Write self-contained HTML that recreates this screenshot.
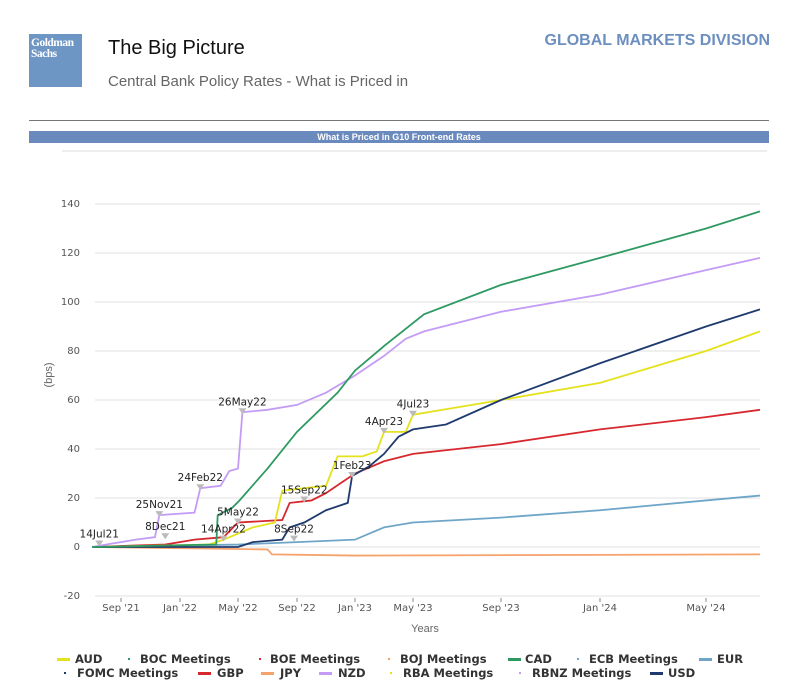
<!DOCTYPE html>
<html><head><meta charset="utf-8">
<style>
body{margin:0;width:800px;height:693px;background:#fff;font-family:"Liberation Sans",sans-serif;overflow:hidden;position:relative}
.abs{position:absolute}
.lg{position:absolute;font-size:11.5px;font-weight:bold;color:#333;font-family:"DejaVu Sans","Liberation Sans",sans-serif;white-space:nowrap;line-height:14px}
.mk{position:absolute;width:13px;height:3px}
.dt{position:absolute;width:2px;height:2px}
</style></head>
<body>
<div class="abs" style="left:29px;top:34px;width:53px;height:53px;background:#6d96c4;color:#fff;font-family:'Liberation Serif',serif;font-size:11.5px;line-height:11px;padding:4px 2px;box-sizing:border-box;font-weight:bold;letter-spacing:-0.5px">Goldman<br>Sachs</div>
<div class="abs" style="left:108px;top:37px;font-size:20px;color:#111">The Big Picture</div>
<div class="abs" style="left:108px;top:73px;font-size:15px;color:#666">Central Bank Policy Rates - What is Priced in</div>
<div class="abs" style="right:30px;top:32px;font-size:16px;font-weight:bold;color:#6d8fc0">GLOBAL MARKETS DIVISION</div>
<div class="abs" style="left:29px;top:120px;width:740px;height:1px;background:#777"></div>
<div class="abs" style="left:29px;top:131px;width:740px;height:12px;background:#6a89bd;color:#fff;font-size:9px;font-weight:bold;text-align:center;line-height:12px">What is Priced in G10 Front-end Rates</div>
<svg class="abs" style="left:0;top:0" width="800" height="693" id="chart"></svg>
<script>
const yTicks=[140,120,100,80,60,40,20,0,-20];
const xTickLabels=["Sep '21","Jan '22","May '22","Sep '22","Jan '23","May '23","Sep '23","Jan '24","May '24"];
const xTickMonths=[2,6,10,14,18,22,26,30,34];
const xTickPx=[121,180,238,297,355,413,501,600,706];
const CAD=[[0,0],[8.5,1],[8.6,13],[9.6,16],[10.1,19],[12,32],[14,47],[16.8,63],[18,72],[20,82],[22.5,95],[26,107],[30,118],[34,130],[36,137]];
const NZD=[[0,0],[1,1],[3,3],[4.3,4],[4.6,13],[7,14],[7.4,24],[8.8,25],[9.4,31],[10,32],[10.3,55],[12,56],[14,58],[16,63],[18,70],[20,78],[21.5,85],[22.5,88],[26,96],[30,103],[34,113],[36,118]];
const USD=[[0,0],[10,0],[11,2],[13,3],[13.5,8],[14.5,10],[16,15],[17.5,18],[17.8,29],[19,33],[20,38],[21,45],[22,48],[23.5,50],[26,60],[30,75],[34,90],[36,97]];
const AUD=[[0,0],[8,1],[9,3],[11,8],[12.5,10],[13,23],[14.5,24],[16,25],[16.8,37],[18.5,37],[19.5,39],[20,47],[21.5,47],[22,54],[24,57],[26,60],[30,67],[34,80],[36,88]];
const GBP=[[0,0],[5,1],[7,3],[9,4],[10,10],[13,11],[13.5,18],[15,19],[16,22],[17,26],[18,30],[20,35],[22,38],[26,42],[30,48],[34,53],[36,56]];
const EUR=[[0,0],[10,1],[14,2],[18,3],[20,8],[22,10],[26,12],[30,15],[34,19],[36,21]];
const JPY=[[0,0],[12,-1],[12.3,-3],[18,-3.5],[36,-3]];
const annotations=[["14Jul21",0.5,1],["25Nov21",4.6,13],["8Dec21",5,4],["24Feb22",7.4,24],["26May22",10.3,55],["5May22",10,10],["14Apr22",9,3],["15Sep22",14.5,19],["8Sep22",13.8,3],["1Feb23",17.8,29],["4Apr23",20,47],["4Jul23",22,54]];
const svg=document.getElementById('chart');
const NS='http://www.w3.org/2000/svg';
function xS(m){const ms=[0].concat(xTickMonths,[36]);const px=[92].concat(xTickPx,[760]);for(let i=0;i<ms.length-1;i++){if(m<=ms[i+1])return px[i]+(m-ms[i])/(ms[i+1]-ms[i])*(px[i+1]-px[i]);}return 760;}
function yS(v){return 547-v*2.45;}
function mk(t,a){const e=document.createElementNS(NS,t);for(const k in a)e.setAttribute(k,a[k]);svg.appendChild(e);return e;}
let g=mk('line',{x1:62,x2:767,y1:151,y2:151,stroke:'#ddd'});


yTicks.forEach(v=>{const l=mk('line',{x1:95,x2:760,y1:yS(v),y2:yS(v),stroke:'#e2e2e2'});


const t=mk('text',{x:80,y:yS(v)+3,'text-anchor':'end','font-size':10,fill:'#555','font-family':'DejaVu Sans'});t.textContent=v;

});
xTickMonths.forEach((m,i)=>{const t=mk('text',{x:xS(m),y:611,'text-anchor':'middle','font-size':10,fill:'#555','font-family':'DejaVu Sans'});t.textContent=xTickLabels[i];


const k=mk('line',{x1:xS(m),x2:xS(m),y1:598,y2:602,stroke:'#888'});

});
let t=mk('text',{x:425,y:632,'text-anchor':'middle','font-size':11,fill:'#666'});t.textContent='Years';


t=mk('text',{x:0,y:0,transform:'translate(52,375) rotate(-90)','text-anchor':'middle','font-size':11,fill:'#666'});t.textContent='(bps)';


const series=[["JPY",JPY,"#f5a26b"],["EUR",EUR,"#6fa6c8"],["GBP",GBP,"#d7282f"],["AUD",AUD,"#e4e21a"],["USD",USD,"#1f3a6e"],["NZD",NZD,"#c49cf5"],["CAD",CAD,"#2e9a62"]];
series.forEach(s=>{const p=mk('polyline',{points:s[1].map(d=>xS(d[0])+','+yS(d[1])).join(' '),fill:'none',stroke:s[2],'stroke-width':1.8});

});
annotations.forEach(a=>{const x=xS(a[1]),y=yS(a[2]);
const m=mk('path',{d:`M${x-4},${y-4}L${x+4},${y-4}L${x},${y+2}Z`,fill:'#bbb'});


const tx=mk('text',{x:x,y:y-7,'text-anchor':'middle','font-size':10.5,fill:'#222','font-family':'DejaVu Sans'});tx.textContent=a[0];

});
</script>
<div>
<div class="mk" style="left:57px;top:658px;background:#e4e21a"></div>
<div class="lg" style="left:75px;top:652px">AUD</div>
<div class="dt" style="left:128px;top:658px;background:#2e9a62"></div>
<div class="lg" style="left:140px;top:652px">BOC Meetings</div>
<div class="dt" style="left:259px;top:658px;background:#d7282f"></div>
<div class="lg" style="left:270px;top:652px">BOE Meetings</div>
<div class="dt" style="left:388px;top:658px;background:#f5a26b"></div>
<div class="lg" style="left:400px;top:652px">BOJ Meetings</div>
<div class="mk" style="left:508px;top:658px;background:#2e9a62"></div>
<div class="lg" style="left:525px;top:652px">CAD</div>
<div class="dt" style="left:577px;top:658px;background:#6fa6c8"></div>
<div class="lg" style="left:589px;top:652px">ECB Meetings</div>
<div class="mk" style="left:699px;top:658px;background:#6fa6c8"></div>
<div class="lg" style="left:717px;top:652px">EUR</div>

<div class="dt" style="left:64px;top:672px;background:#1f3a6e"></div>
<div class="lg" style="left:77px;top:666px">FOMC Meetings</div>
<div class="mk" style="left:198px;top:672px;background:#d7282f"></div>
<div class="lg" style="left:217px;top:666px">GBP</div>
<div class="mk" style="left:261px;top:672px;background:#f5a26b"></div>
<div class="lg" style="left:280px;top:666px">JPY</div>
<div class="mk" style="left:319px;top:672px;background:#c49cf5"></div>
<div class="lg" style="left:338px;top:666px">NZD</div>
<div class="dt" style="left:390px;top:672px;background:#e4e21a"></div>
<div class="lg" style="left:403px;top:666px">RBA Meetings</div>
<div class="dt" style="left:519px;top:672px;background:#c49cf5"></div>
<div class="lg" style="left:532px;top:666px">RBNZ Meetings</div>
<div class="mk" style="left:650px;top:672px;background:#1f3a6e"></div>
<div class="lg" style="left:668px;top:666px">USD</div>
</div>
</body></html>
